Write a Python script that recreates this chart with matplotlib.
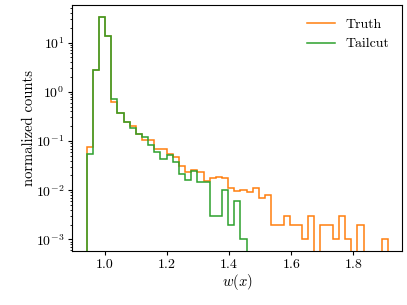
import numpy as np
import matplotlib
matplotlib.use("Agg")
import matplotlib.pyplot as plt

plt.rcParams["font.family"] = "serif"
plt.rcParams["font.serif"] = ["cmr10"]
plt.rcParams["mathtext.fontset"] = "cm"
plt.rcParams["axes.unicode_minus"] = False
plt.rcParams["axes.formatter.use_mathtext"] = True

# histogram bin edges (shared by both series)
edges = np.linspace(0.941, 1.912, 50)

# normalized counts per bin
truth = [0.074, 2.78, 33.8, 13.5, 0.63, 0.366, 0.247, 0.205, 0.141, 0.105,
         0.105, 0.068, 0.068, 0.054, 0.048, 0.0316, 0.0238, 0.026, 0.023, 0.0153,
         0.018, 0.0185, 0.0174, 0.0109, 0.0095, 0.0100, 0.0090, 0.0109, 0.0068, 0.0080,
         0.002, 0.002, 0.003, 0.002, 0.002, 0.001, 0.003, 0.0, 0.002, 0.002,
         0.001, 0.003, 0.001, 0.0, 0.002, 0.0, 0.0, 0.0, 0.001]
tailcut = [0.054, 2.78, 33.8, 13.7, 0.705, 0.366, 0.247, 0.181, 0.141, 0.119,
           0.083, 0.059, 0.043, 0.052, 0.038, 0.0216, 0.0162, 0.025, 0.0148, 0.0148,
           0.003, 0.003, 0.010, 0.002, 0.006, 0.001]

fig = plt.figure(figsize=(4.07, 3.05), dpi=100)
ax = fig.add_axes([0.177, 0.177, 0.811, 0.805])

ax.stairs(truth, edges, baseline=0, color="C1", lw=1.1, label="Truth")
ax.stairs(tailcut, edges[:len(tailcut) + 1], baseline=0, color="C2", lw=1.1, label="Tailcut")

ax.set_yscale("log")
ax.set_xlim(0.894, 1.957)
ax.set_ylim(5.8e-4, 56.6)
ax.set_xticks([1.0, 1.2, 1.4, 1.6, 1.8])
ax.set_xticklabels(["1.0", "1.2", "1.4", "1.6", "1.8"])

ax.set_xlabel(r"$w(x)$", fontsize=10.5, labelpad=1)
ax.set_ylabel("normalized counts", fontsize=10.5, labelpad=0)
ax.tick_params(labelsize=10, length=3, pad=2.5)
ax.tick_params(which="minor", length=1.8)

ax.legend(loc="upper right", frameon=False, fontsize=10)

fig.savefig("out.png", dpi=100)
